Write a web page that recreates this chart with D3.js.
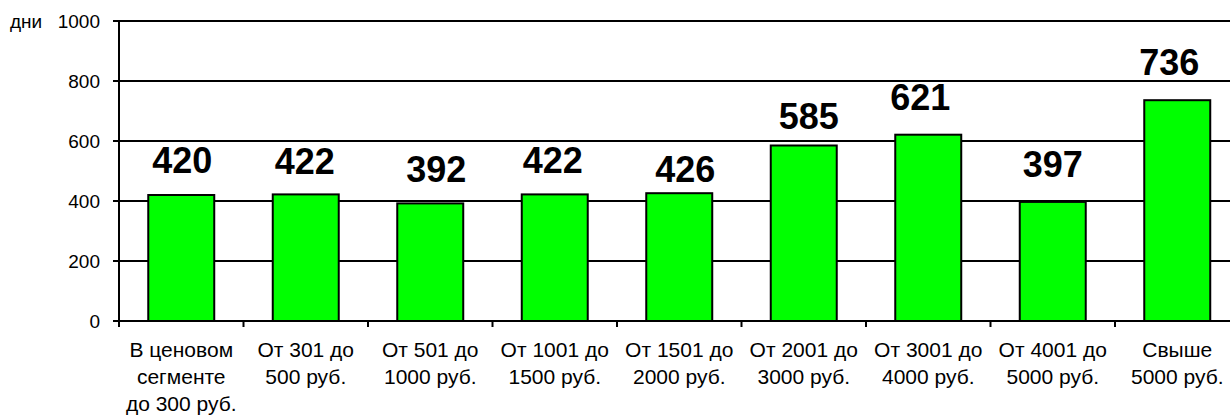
<!DOCTYPE html>
<html lang="ru">
<head>
    <meta charset="utf-8">
    <title>Дни по ценовым сегментам</title>
    <style>
        body { margin: 0; background: #fff; font-family: Arial, "Liberation Sans", sans-serif; }
        svg { display: block; }
    </style>
</head>
<body>
    <script src="https://d3js.org/d3.v7.min.js"></script>
    <script>
    // data
    var categories = [
        ["В ценовом", "сегменте", "до 300 руб."],
        ["От 301 до", "500 руб."],
        ["От 501 до", "1000 руб."],
        ["От 1001 до", "1500 руб."],
        ["От 1501 до", "2000 руб."],
        ["От 2001 до", "3000 руб."],
        ["От 3001 до", "4000 руб."],
        ["От 4001 до", "5000 руб."],
        ["Свыше", "5000 руб."]
    ];
    var values = [420, 422, 392, 422, 426, 585, 621, 397, 736];
    var yTicks = [0, 200, 400, 600, 800, 1000];
    var yUnit = "дни";

    var w = 1230, h = 415;
    var plotLeft = 119, plotTop = 21, plotBottom = 321;
    var step = 124.5;

    // hand-placed value labels (offset from the bar top / centre)
    var labelLift = [22, 20, 21, 21, 11, 17, 25, 25, 25];
    var labelShift = [1, -1, 6, -2, 6, 5, -8, 0, -8];

    var svg = d3.select("body").append("svg")
        .attr("width", w)
        .attr("height", h);

    var x = d3.scaleBand()
        .domain(d3.range(values.length))
        .range([plotLeft, plotLeft + step * values.length])
        .paddingInner(0.47)
        .paddingOuter(0.235);

    var y = d3.scaleLinear().domain([0, 1000]).range([plotBottom, plotTop]);

    // gridlines
    svg.append("g")
        .selectAll("line")
        .data(yTicks)
        .enter()
        .append("line")
        .attr("x1", plotLeft - 6)
        .attr("x2", w)
        .attr("y1", function(d) { return y(d); })
        .attr("y2", function(d) { return y(d); })
        .attr("stroke", "#000")
        .attr("stroke-width", 2);

    // y labels
    svg.append("g")
        .selectAll("text")
        .data(yTicks)
        .enter()
        .append("text")
        .attr("x", 100)
        .attr("y", function(d) { return y(d); })
        .attr("dy", "0.35em")
        .attr("text-anchor", "end")
        .attr("font-size", 19)
        .text(function(d) { return d; });

    svg.append("text")
        .attr("x", 10)
        .attr("y", y(1000))
        .attr("dy", "0.35em")
        .attr("font-size", 19)
        .text(yUnit);

    // bars
    svg.append("g")
        .selectAll("rect")
        .data(values)
        .enter()
        .append("rect")
        .attr("x", function(d, i) { return x(i); })
        .attr("y", function(d) { return y(d); })
        .attr("width", x.bandwidth())
        .attr("height", function(d) { return y(0) - y(d); })
        .attr("fill", "#00ff00")
        .attr("stroke", "#000")
        .attr("stroke-width", 2);

    // axis lines
    svg.append("line")
        .attr("x1", plotLeft).attr("x2", plotLeft)
        .attr("y1", plotTop).attr("y2", plotBottom + 6)
        .attr("stroke", "#000").attr("stroke-width", 2);

    svg.append("line")
        .attr("x1", plotLeft - 6).attr("x2", w)
        .attr("y1", plotBottom).attr("y2", plotBottom)
        .attr("stroke", "#000").attr("stroke-width", 2);

    svg.append("g")
        .selectAll("line")
        .data(d3.range(1, values.length))
        .enter()
        .append("line")
        .attr("x1", function(i) { return plotLeft + i * x.step(); })
        .attr("x2", function(i) { return plotLeft + i * x.step(); })
        .attr("y1", plotBottom)
        .attr("y2", plotBottom + 6)
        .attr("stroke", "#000")
        .attr("stroke-width", 2);

    // value labels
    svg.append("g")
        .selectAll("text")
        .data(values)
        .enter()
        .append("text")
        .attr("x", function(d, i) { return x(i) + x.bandwidth() / 2 + labelShift[i]; })
        .attr("y", function(d, i) { return y(d) - labelLift[i]; })
        .attr("text-anchor", "middle")
        .attr("font-size", 36)
        .attr("font-weight", "bold")
        .text(function(d) { return d; });

    // category labels
    var cat = svg.append("g")
        .selectAll("text")
        .data(categories)
        .enter()
        .append("text")
        .attr("text-anchor", "middle")
        .attr("font-size", 21)
        .attr("transform", function(d, i) { return "translate(" + (x(i) + x.bandwidth() / 2) + ",357)"; });

    cat.selectAll("tspan")
        .data(function(d) { return d; })
        .enter()
        .append("tspan")
        .attr("x", 0)
        .attr("y", function(d, j) { return j * 27; })
        .text(function(d) { return d; });
    </script>
</body>
</html>
